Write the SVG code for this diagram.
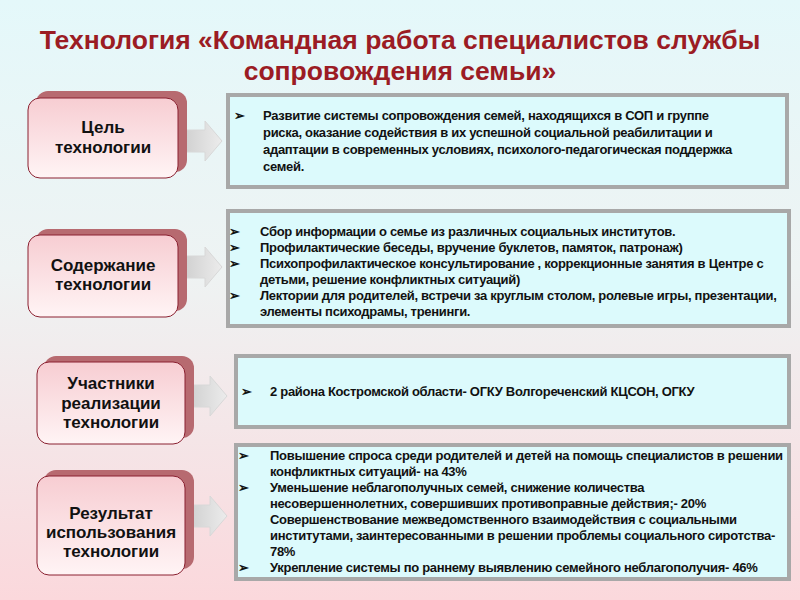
<svg xmlns="http://www.w3.org/2000/svg" width="800" height="600" viewBox="0 0 800 600">
<defs>
<linearGradient id="bg" x1="0" y1="0" x2="0" y2="1"><stop offset="0" stop-color="#e4f8fa"/><stop offset="0.45" stop-color="#eef3f3"/><stop offset="1" stop-color="#fbd8dc"/></linearGradient>
<linearGradient id="nf" x1="0" y1="0" x2="0" y2="1"><stop offset="0" stop-color="#f7cdd2"/><stop offset="1" stop-color="#fff4f5"/></linearGradient>
<linearGradient id="ar" x1="0" y1="0" x2="1" y2="0"><stop offset="0" stop-color="#cfcfcf"/><stop offset="1" stop-color="#ececec"/></linearGradient>
<style>
.sh{fill:#b76a70}
.nd{fill:url(#nf);stroke:#8a2030;stroke-width:1}
.nt{font-family:"Liberation Sans",Arial,sans-serif;font-size:17px;font-weight:bold;fill:#111;text-anchor:middle}
.bx{fill:#dcfafc;stroke:#a8a8a8;stroke-width:4}
.tx{font-family:"Liberation Sans",Arial,sans-serif;font-size:13px;font-weight:bold;fill:#111;letter-spacing:-0.3px}
.ar{fill:url(#ar);stroke:#d8d8d8}
</style>
</defs>
<rect width="800" height="600" fill="url(#bg)"/>
<text x="400" y="49" text-anchor="middle" font-family="Liberation Sans,Arial,sans-serif" font-size="26.5" font-weight="bold" fill="#9b1c24">Технология «Командная работа специалистов службы</text>
<text x="400" y="80" text-anchor="middle" font-family="Liberation Sans,Arial,sans-serif" font-size="26.5" font-weight="bold" fill="#9b1c24">сопровождения семьи»</text>
<g id="connectors">
<path class="ar" d="M183,130 H205 V121 L222,141 L205,161 V152 H183 Z"/>
<path class="ar" d="M183,256 H205 V247 L222,267 L205,287 V278 H183 Z"/>
<path class="ar" d="M188,385 H210 V376 L227,396 L210,416 V407 H188 Z"/>
<path class="ar" d="M188,505 H210 V496 L227,516 L210,536 V527 H188 Z"/>
</g>
<g id="n1">
<rect class="sh" x="36" y="91" width="151" height="81" rx="12"/>
<rect class="nd" x="28" y="98" width="150" height="80" rx="12"/>
<text class="nt" x="103" y="133">Цель</text><text class="nt" x="103" y="153">технологии</text>
</g>
<g id="n2">
<rect class="sh" x="36" y="229" width="151" height="82" rx="12"/>
<rect class="nd" x="28" y="235" width="150" height="82" rx="12"/>
<text class="nt" x="103" y="271">Содержание</text><text class="nt" x="103" y="290">технологии</text>
</g>
<g id="n3">
<rect class="sh" x="44" y="356" width="150" height="82" rx="12"/>
<rect class="nd" x="37" y="362" width="148" height="82" rx="12"/>
<text class="nt" x="111" y="389">Участники</text><text class="nt" x="111" y="409">реализации</text><text class="nt" x="111" y="428">технологии</text>
</g>
<g id="n4">
<rect class="sh" x="44" y="470" width="150" height="99" rx="12"/>
<rect class="nd" x="37" y="476" width="148" height="99" rx="12"/>
<text class="nt" x="111" y="519">Результат</text><text class="nt" x="111" y="538">использования</text><text class="nt" x="111" y="557">технологии</text>
</g>
<g id="b1">
<rect class="bx" x="228" y="95" width="559" height="92"/>
<text class="tx" x="234" y="120">➢</text>
<text class="tx" x="263" y="120">Развитие системы сопровождения семей, находящихся в СОП и группе</text>
<text class="tx" x="263" y="137">риска, оказание содействия в их успешной социальной реабилитации и</text>
<text class="tx" x="263" y="154">адаптации в современных условиях, психолого-педагогическая поддержка</text>
<text class="tx" x="263" y="171">семей.</text>
</g>
<g id="b2">
<rect class="bx" x="228" y="211" width="561" height="115"/>
<text class="tx" x="229" y="236">➢</text><text class="tx" x="260" y="236">Сбор информации о семье из различных социальных институтов.</text>
<text class="tx" x="229" y="252">➢</text><text class="tx" x="260" y="252">Профилактические беседы, вручение буклетов, памяток, патронаж)</text>
<text class="tx" x="229" y="268">➢</text><text class="tx" x="260" y="268">Психопрофилактическое консультирование , коррекционные занятия в Центре с</text>
<text class="tx" x="260" y="284">детьми, решение конфликтных ситуаций)</text>
<text class="tx" x="229" y="300">➢</text><text class="tx" x="260" y="300">Лектории для родителей, встречи за круглым столом, ролевые игры, презентации,</text>
<text class="tx" x="260" y="316">элементы психодрамы, тренинги.</text>
</g>
<g id="b3">
<rect class="bx" x="236" y="356" width="553" height="71"/>
<text class="tx" x="241" y="396">➢</text><text class="tx" x="270" y="396">2 района Костромской области- ОГКУ Волгореченский КЦСОН, ОГКУ</text>
</g>
<g id="b4">
<rect class="bx" x="236" y="445" width="553" height="134"/>
<text class="tx" x="238" y="460">➢</text><text class="tx" x="270" y="460">Повышение спроса среди родителей и детей на помощь специалистов в решении</text>
<text class="tx" x="270" y="476">конфликтных ситуаций- на 43%</text>
<text class="tx" x="238" y="492">➢</text><text class="tx" x="270" y="492">Уменьшение неблагополучных семей, снижение количества</text>
<text class="tx" x="270" y="508">несовершеннолетних, совершивших противоправные действия;- 20%</text>
<text class="tx" x="270" y="524">Совершенствование межведомственного взаимодействия с социальными</text>
<text class="tx" x="270" y="540">институтами, заинтересованными в решении проблемы социального сиротства-</text>
<text class="tx" x="270" y="556">78%</text>
<text class="tx" x="238" y="572">➢</text><text class="tx" x="270" y="572">Укрепление системы по раннему выявлению семейного неблагополучия- 46%</text>
</g>
</svg>
